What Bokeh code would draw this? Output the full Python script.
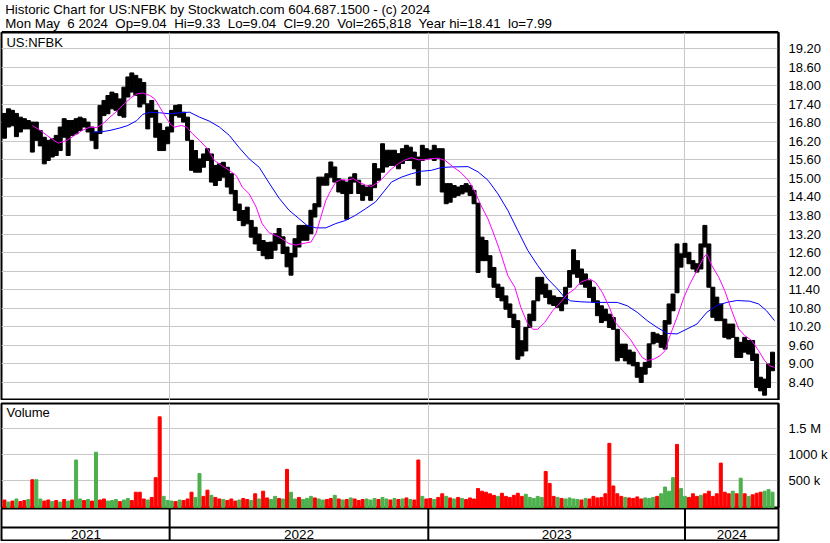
from bokeh.plotting import figure
from bokeh.layouts import column
from bokeh.models import FixedTicker, Label, Range1d, Grid, NumeralTickFormatter
from bokeh.embed import file_html
from bokeh.resources import INLINE
from bokeh.core.properties import value

FONT = "Arial"

# ---------------- data ----------------
title_line1 = "Historic Chart for US:NFBK by Stockwatch.com 604.687.1500 - (c) 2024"
title_line2 = "Mon May  6 2024  Op=9.04  Hi=9.33  Lo=9.04  Cl=9.20  Vol=265,818  Year hi=18.41  lo=7.99"
symbol = "US:NFBK"

years = ["2021", "2022", "2023", "2024"]
year_start_day = [0, 168, 428, 686]   # trading-day index where each year starts on the chart
last_day = 780

period_days = 4   # each bar summarises 4 trading days

lows = [
    16.3, 16.66, 16.7, 16.35, 16.5, 16.6, 16.6, 15.85, 16.23, 16.05,
    15.47, 15.58, 15.69, 15.74, 15.9, 16.33, 15.74, 16.39, 16.44, 16.55,
    16.66, 16.5, 16.23, 15.96, 16.45, 17.03, 17.09, 17.25, 17.2, 17.03,
    16.98, 17.63, 17.79, 17.68, 17.31, 17.41, 16.6, 16.98, 16.33, 15.9,
    15.9, 16.12, 16.5, 17.03, 16.98, 16.82, 16.23, 15.26, 15.2, 15.2,
    15.36, 15.58, 14.88, 14.77, 14.93, 15.04, 14.72, 14.5, 13.96, 13.64,
    13.47, 13.53, 13.1, 12.88, 12.67, 12.5, 12.4, 12.41, 12.68, 12.89,
    12.57, 12.14, 11.87, 12.46, 12.78, 13.0, 13.0, 13.21, 13.75, 14.08,
    14.78, 14.78, 15.04, 14.88, 14.56, 14.51, 13.68, 14.51, 14.88, 14.51,
    14.29, 14.45, 14.29, 14.7, 14.94, 15.2, 15.37, 15.42, 15.42, 15.31,
    15.48, 15.58, 15.58, 15.31, 14.78, 15.58, 15.64, 15.64, 15.58, 15.64,
    14.56, 14.18, 14.23, 14.39, 14.45, 14.5, 14.56, 14.45, 14.18, 11.96,
    12.34, 12.34, 11.8, 11.48, 11.15, 11.04, 10.77, 10.5, 10.18, 9.15,
    9.26, 9.42, 10.18, 10.4, 11.04, 11.26, 11.15, 10.94, 10.89, 10.83,
    10.72, 10.94, 11.48, 11.91, 11.8, 11.58, 11.48, 11.15, 10.99, 10.56,
    10.34, 10.4, 10.18, 10.12, 9.1, 9.21, 9.1, 9.0, 8.94, 8.57,
    8.4, 8.67, 8.89, 9.65, 9.7, 9.54, 9.48, 10.29, 10.72, 11.3,
    12.13, 12.45, 12.24, 12.07, 11.97, 12.07, 12.78, 11.48, 10.51, 10.4,
    10.4, 9.86, 9.81, 9.86, 9.21, 9.21, 9.38, 9.32, 9.11, 8.24,
    8.13, 7.99, 8.24, 8.78,
]
highs = [
    17.1, 17.25, 17.2, 17.1, 16.98, 16.93, 16.87, 16.82, 16.82, 16.55,
    16.33, 16.23, 16.28, 16.39, 16.66, 16.93, 16.87, 16.87, 16.93, 16.98,
    16.93, 16.82, 16.66, 16.5, 17.36, 17.52, 17.68, 17.79, 17.74, 17.57,
    17.95, 18.28, 18.41, 18.33, 18.22, 18.1, 17.41, 17.52, 17.2, 16.77,
    16.55, 16.66, 17.2, 17.36, 17.38, 17.14, 16.98, 16.23, 15.9, 15.63,
    15.79, 15.96, 15.79, 15.42, 15.47, 15.52, 15.36, 15.15, 14.61, 14.17,
    13.96, 14.07, 13.64, 13.42, 13.2, 12.99, 12.93, 12.94, 13.21, 13.38,
    13.11, 12.78, 12.57, 13.05, 13.48, 13.48, 13.48, 13.97, 14.18, 15.04,
    15.04, 15.15, 15.53, 15.37, 14.99, 14.94, 14.88, 15.04, 15.15, 14.94,
    14.78, 14.72, 14.78, 15.48, 15.31, 16.12, 15.91, 15.91, 15.91, 15.80,
    15.96, 16.07, 16.01, 15.85, 15.69, 16.07, 15.96, 15.91, 16.07, 15.96,
    15.96, 14.83, 14.83, 14.77, 14.72, 14.77, 14.83, 14.77, 14.61, 14.2,
    13.10, 12.99, 12.50, 12.12, 11.58, 11.48, 11.20, 10.94, 10.61, 10.40,
    9.75, 10.18, 10.61, 11.04, 11.80, 11.80, 11.58, 11.37, 11.20, 11.15,
    11.15, 11.48, 12.02, 12.69, 12.34, 12.07, 11.91, 11.69, 11.48, 11.04,
    10.88, 10.77, 10.61, 10.50, 10.12, 9.64, 9.64, 9.45, 9.38, 9.05,
    8.89, 9.05, 9.65, 10.02, 9.97, 9.92, 10.40, 10.94, 11.26, 12.88,
    12.56, 12.90, 12.61, 12.34, 12.24, 12.88, 13.48, 12.88, 11.48, 11.16,
    10.94, 10.45, 10.29, 10.29, 9.86, 9.70, 9.86, 9.76, 9.76, 9.32,
    8.57, 8.51, 9.0, 9.38,
]

# volume per period, thousands of shares; r = down, g = up
volume_k = [
    130, 90, 110, 150, 100, 120, 140, 520, 520, 150,
    110, 130, 100, 120, 90, 140, 110, 130, 900, 150,
    120, 140, 110, 1050, 130, 150, 110, 120, 140, 100,
    130, 160, 120, 280, 280, 150, 130, 180, 560, 1730,
    200, 120, 110, 100, 130, 120, 150, 280, 180, 640,
    200, 320, 220, 180, 150, 140, 120, 150, 110, 130,
    160, 140, 120, 250, 150, 300, 170, 140, 200, 160,
    150, 720, 280, 150, 180, 140, 160, 200, 170, 150,
    130, 140, 160, 220, 150, 130, 140, 170, 150, 120,
    140, 150, 130, 160, 140, 180, 150, 130, 160, 140,
    150, 170, 140, 130, 900, 200, 150, 160, 140, 180,
    250, 200, 170, 150, 180, 160, 140, 170, 150, 350,
    300, 280, 250, 220, 200, 260, 200, 180, 220, 260,
    200, 240, 180, 160, 200, 180, 680, 450, 200, 180,
    160, 150, 170, 150, 140, 130, 160, 150, 200, 170,
    180, 250, 1220, 400, 250, 200, 180, 170, 160, 190,
    150, 170, 160, 180, 200, 250, 380, 300, 560, 1200,
    350, 200, 180, 250, 200, 220, 250, 300, 200, 250,
    840, 280, 250, 300, 250, 550, 250, 200, 230, 260,
    280, 300, 330, 280,
]
volume_dir = (
    "rgrgrrgrgg" "rrgrgrgrgg" "rgrgrrgggr" "ggrrrrgrrr" "gggrgrrrgg"
    "rrgrrgrrrg" "rrgrgrrggr" "grggrgggrg" "grrgrgrgrr" "rgggrggrgr"
    "grgrrgrrgr" "rgrgrgrrrr" "rrrrgrrrrr" "rgggggrrrg" "rggggrgrrr"
    "rrrrrrgrrr" "rgggrggggr" "ggrrrgrrrr" "rrrgrgrgrr" "rggg"
)

# moving averages (trading-day index, price)
ma_short_day = [30, 38, 48, 56, 65, 71, 80, 88, 95, 101, 108, 116, 123, 130, 136, 141, 148, 153, 158, 165,
                170, 173, 180, 185, 191, 198, 206, 213, 220, 228, 235, 241, 248, 255, 261, 268, 278, 288,
                295, 301, 310, 315, 320, 325, 330, 335, 340, 346, 353, 358, 365, 371, 378, 385, 391, 398,
                405, 411, 418, 425, 431, 438, 445, 453, 460, 468, 475, 481, 488, 495, 501, 508, 515, 521,
                528, 533, 538, 545, 553, 561, 568, 575, 581, 590, 596, 603, 610, 616, 625, 631, 638, 643,
                648, 655, 661, 666, 671, 678, 685, 691, 698, 705, 708, 713, 720, 726, 733, 740, 746, 753,
                760, 766, 771, 776]
ma_short = [16.71, 16.55, 16.31, 16.14, 16.23, 16.36, 16.55, 16.66, 16.64, 16.77, 16.98, 17.20, 17.43, 17.63,
            17.74, 17.76, 17.68, 17.57, 17.31, 16.93, 16.71, 16.66, 16.71, 16.66, 16.44, 16.23, 15.96, 15.58,
            15.42, 15.26, 15.09, 14.72, 14.50, 14.07, 13.53, 13.24, 13.11, 12.89, 12.84, 12.89, 12.94, 13.21,
            13.75, 14.29, 14.61, 14.88, 14.96, 14.94, 14.99, 14.88, 14.78, 14.74, 14.88, 15.10, 15.31, 15.48,
            15.60, 15.67, 15.60, 15.60, 15.64, 15.65, 15.58, 15.37, 15.21, 14.95, 14.56, 14.12, 13.69, 13.10,
            12.56, 11.85, 11.48, 10.83, 10.29, 10.12, 10.12, 10.34, 10.72, 10.99, 11.26, 11.42, 11.64, 11.75,
            11.64, 11.31, 10.83, 10.34, 10.02, 9.80, 9.45, 9.21, 9.11, 9.16, 9.27, 9.43, 9.92, 10.51, 11.16,
            11.59, 12.02, 12.45, 12.56, 12.18, 11.80, 11.37, 10.72, 10.13, 9.92, 9.76, 9.43, 9.11, 8.94, 8.89]
ma_long_day = [91, 98, 108, 118, 126, 135, 141, 148, 158, 168, 178, 188, 198, 208, 218, 228, 238, 248, 258,
               268, 278, 288, 298, 306, 315, 325, 335, 345, 355, 365, 375, 383, 391, 401, 411, 421, 431, 441,
               451, 468, 478, 488, 498, 508, 518, 528, 538, 548, 558, 565, 571, 581, 595, 608, 618, 628, 638,
               648, 658, 668, 678, 688, 698, 708, 718, 728, 738, 751, 760, 768, 776]
ma_long = [16.50, 16.50, 16.55, 16.63, 16.71, 16.87, 17.07, 17.14, 17.12, 17.09, 17.12, 17.14, 16.98, 16.85,
           16.66, 16.39, 15.99, 15.63, 15.36, 14.85, 14.36, 13.97, 13.70, 13.48, 13.40, 13.40, 13.54, 13.64,
           13.81, 14.02, 14.24, 14.56, 14.88, 15.04, 15.15, 15.23, 15.26, 15.35, 15.37, 15.38, 15.21, 14.94,
           14.50, 13.96, 13.31, 12.67, 12.18, 11.75, 11.42, 11.15, 11.04, 11.01, 10.99, 10.99, 10.99, 10.88,
           10.67, 10.40, 10.18, 9.99, 9.97, 10.13, 10.29, 10.67, 10.89, 10.99, 11.05, 11.03, 10.94, 10.72, 10.40]

price_ticks = [8.40, 9.00, 9.60, 10.20, 10.80, 11.40, 12.00, 12.60, 13.20, 13.80, 14.40, 15.00,
               15.60, 16.20, 16.80, 17.40, 18.00, 18.60, 19.20]
volume_ticks_k = [500, 1000, 1500]
volume_tick_labels = {500: "500 k", 1000: "1000 k", 1500: "1.5 M"}

# ---------------- layout ----------------
W = 830
RIGHT = 48
LEFT = 1
GRID = "#c8c8c8"
RED = "#ff0000"
GREEN = "#4cb04c"

bar_x = [period_days * i + period_days / 2 for i in range(len(lows))]
vol_colors = [RED if c == "r" else GREEN for c in volume_dir]
x_range = Range1d(-1, last_day)

# header
HDR_H = 32
hdr = figure(width=W, height=HDR_H, x_range=Range1d(0, W), y_range=Range1d(0, HDR_H),
             output_backend="svg", toolbar_location=None, min_border=0,
             x_axis_location=None, y_axis_location=None, outline_line_color=None)
hdr.grid.visible = False
shown = [title_line1, title_line2.replace("  ", "\u00a0 ")]
hdr.text(x=[4, 4], y=[HDR_H - 1, HDR_H - 15], text=shown, text_font=value(FONT),
         text_font_size="13.3px", text_baseline="top", text_color="black")
hdr.segment(x0=[0], y0=[0.5], x1=[W], y1=[0.5], line_color="black", line_width=2)


def base_fig(height, y_range, top=0):
    f = figure(width=W, height=height, x_range=x_range, y_range=y_range,
               output_backend="svg", toolbar_location=None,
               min_border_left=LEFT, min_border_right=RIGHT, min_border_top=top, min_border_bottom=0,
               x_axis_location=None, y_axis_location="right",
               outline_line_color="black", outline_line_width=2)
    f.grid.visible = False
    ax = f.yaxis[0]
    ax.major_tick_line_color = None
    ax.minor_tick_line_color = None
    ax.axis_line_color = "black"
    ax.axis_line_width = 2
    ax.major_label_text_font = FONT
    ax.major_label_text_font_size = "13px"
    ax.major_label_text_color = "black"
    ax.major_label_standoff = 4
    f.add_layout(Grid(dimension=0, ticker=FixedTicker(ticks=year_start_day[1:]),
                      grid_line_color=GRID, grid_line_width=1))
    return f


# price panel
p = base_fig(368, Range1d(7.818, 19.717))
p.yaxis[0].ticker = FixedTicker(ticks=price_ticks)
p.yaxis[0].formatter = NumeralTickFormatter(format="0.00")
p.add_layout(Grid(dimension=1, ticker=FixedTicker(ticks=price_ticks),
                  grid_line_color=GRID, grid_line_width=1))
p.vbar(x=bar_x, width=period_days, bottom=lows, top=highs, color="black")
p.line(ma_long_day, ma_long, line_color="#0000ff", line_width=1)
p.line(ma_short_day, ma_short, line_color="#ff00ff", line_width=1)
p.add_layout(Label(x=4, y=19.62, text=symbol, text_baseline="top", text_font=FONT,
                   text_font_size="13px", text_color="black"))

# volume panel
v_lo, v_hi = -33, 1987
v = base_fig(108, Range1d(v_lo, v_hi), top=3)
v.yaxis[0].ticker = FixedTicker(ticks=volume_ticks_k)
v.yaxis[0].major_label_overrides = volume_tick_labels
v.add_layout(Grid(dimension=1, ticker=FixedTicker(ticks=volume_ticks_k),
                  grid_line_color=GRID, grid_line_width=1))
v.vbar(x=bar_x, width=period_days * 0.75, bottom=v_lo, top=volume_k, color=vol_colors)
v.add_layout(Label(x=4, y=1950, text="Volume", text_baseline="top", text_font=FONT,
                   text_font_size="13px", text_color="black"))

# year strip
YR_H = 33
yr = figure(width=W, height=YR_H, x_range=x_range, y_range=Range1d(0, YR_H),
            output_backend="svg", toolbar_location=None,
            min_border_left=LEFT, min_border_right=RIGHT, min_border_top=0, min_border_bottom=0,
            x_axis_location=None, y_axis_location=None,
            outline_line_color="black", outline_line_width=2)
yr.grid.visible = False
bounds = year_start_day[1:]
yr.segment(x0=bounds, y0=[0] * len(bounds), x1=bounds, y1=[YR_H] * len(bounds),
           line_color="black", line_width=2)
yr.segment(x0=[-1], y0=[14], x1=[last_day], y1=[14], line_color="black", line_width=2)
ends = year_start_day[1:] + [last_day]
centers = [(a + b) / 2 for a, b in zip(year_start_day, ends)]
yr.text(x=centers, y=[7] * len(centers), text=years, text_font=value(FONT),
        text_font_size="13.5px", text_align="center", text_baseline="middle", text_color="black")

layout = column(hdr, p, v, yr, spacing=0)
open("out.html", "w").write(file_html(layout, INLINE))
